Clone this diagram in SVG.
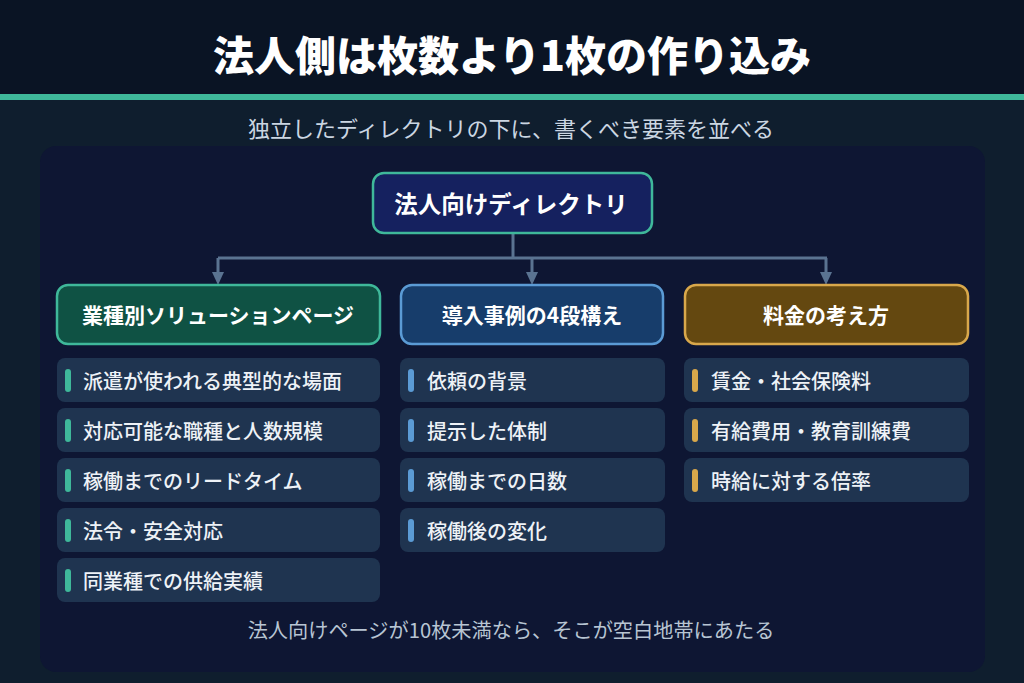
<svg xmlns="http://www.w3.org/2000/svg" width="1024" height="683" viewBox="0 0 1024 683">
<defs>
<style>
text{font-family:"Noto Sans CJK JP","Noto Sans",sans-serif;dominant-baseline:central}
.title{font-size:41px;font-weight:900;fill:#ffffff;text-anchor:middle}
.sub{font-size:22px;fill:#cbd6e2;text-anchor:middle}
.head{font-size:21px;font-weight:700;fill:#ffffff;text-anchor:middle}
.item{font-size:20px;font-weight:500;fill:#eef2f7}
.box{fill:#1f3450}
.conn{stroke:#5a7391;stroke-width:3;fill:none}
</style>
</defs>
<rect width="1024" height="683" fill="#0f1e2e"/>
<rect width="1024" height="95" fill="#0a1424"/>
<rect y="94" width="1024" height="6" fill="#3fb89a"/>
<text class="title" x="512" y="53">法人側は枚数より1枚の作り込み</text>
<text class="sub" x="511" y="127">独立したディレクトリの下に、書くべき要素を並べる</text>
<rect x="40" y="146" width="945" height="526" rx="16" fill="#0e1633"/>

<g id="connectors">
<path class="conn" d="M513,234 V258 M218,258 H827 M218,258 V274 M532,258 V274 M826,258 V274"/>
<path d="M212,272 H224 L218,285 Z" fill="#5a7391"/>
<path d="M526,272 H538 L532,285 Z" fill="#5a7391"/>
<path d="M820,272 H832 L826,285 Z" fill="#5a7391"/>
</g>

<g id="root">
<rect x="373" y="173" width="279" height="60" rx="11" fill="#15215f" stroke="#3fb89a" stroke-width="2.5"/>
<text class="head" x="511" y="203" style="font-size:23.5px">法人向けディレクトリ</text>
</g>

<g id="green-head">
<rect x="57" y="285" width="323" height="59" rx="11" fill="#0f5244" stroke="#3fb89a" stroke-width="2.5"/>
<text class="head" x="218" y="314">業種別ソリューションページ</text>
</g>
<g id="blue-head">
<rect x="401" y="285" width="262" height="59" rx="11" fill="#173d6b" stroke="#5b9bd5" stroke-width="2.5"/>
<text class="head" x="532" y="314">導入事例の4段構え</text>
</g>
<g id="gold-head">
<rect x="685" y="285" width="283" height="59" rx="11" fill="#644810" stroke="#d9a84b" stroke-width="2.5"/>
<text class="head" x="826" y="314">料金の考え方</text>
</g>

<g id="g1"><rect class="box" x="57" y="358" width="323" height="44" rx="8"/><rect x="65" y="369" width="6" height="23" rx="3" fill="#3fb89a"/><text class="item" x="83" y="380">派遣が使われる典型的な場面</text></g>
<g id="g2"><rect class="box" x="57" y="408" width="323" height="44" rx="8"/><rect x="65" y="419" width="6" height="23" rx="3" fill="#3fb89a"/><text class="item" x="83" y="430">対応可能な職種と人数規模</text></g>
<g id="g3"><rect class="box" x="57" y="458" width="323" height="44" rx="8"/><rect x="65" y="469" width="6" height="23" rx="3" fill="#3fb89a"/><text class="item" x="83" y="480">稼働までのリードタイム</text></g>
<g id="g4"><rect class="box" x="57" y="508" width="323" height="44" rx="8"/><rect x="65" y="519" width="6" height="23" rx="3" fill="#3fb89a"/><text class="item" x="83" y="530">法令・安全対応</text></g>
<g id="g5"><rect class="box" x="57" y="558" width="323" height="44" rx="8"/><rect x="65" y="569" width="6" height="23" rx="3" fill="#3fb89a"/><text class="item" x="83" y="580">同業種での供給実績</text></g>

<g id="b1"><rect class="box" x="400" y="358" width="265" height="44" rx="8"/><rect x="408" y="369" width="6" height="23" rx="3" fill="#5b9bd5"/><text class="item" x="427" y="380">依頼の背景</text></g>
<g id="b2"><rect class="box" x="400" y="408" width="265" height="44" rx="8"/><rect x="408" y="419" width="6" height="23" rx="3" fill="#5b9bd5"/><text class="item" x="427" y="430">提示した体制</text></g>
<g id="b3"><rect class="box" x="400" y="458" width="265" height="44" rx="8"/><rect x="408" y="469" width="6" height="23" rx="3" fill="#5b9bd5"/><text class="item" x="427" y="480">稼働までの日数</text></g>
<g id="b4"><rect class="box" x="400" y="508" width="265" height="44" rx="8"/><rect x="408" y="519" width="6" height="23" rx="3" fill="#5b9bd5"/><text class="item" x="427" y="530">稼働後の変化</text></g>

<g id="o1"><rect class="box" x="684" y="358" width="285" height="44" rx="8"/><rect x="692" y="369" width="6" height="23" rx="3" fill="#d9a84b"/><text class="item" x="711" y="380">賃金・社会保険料</text></g>
<g id="o2"><rect class="box" x="684" y="408" width="285" height="44" rx="8"/><rect x="692" y="419" width="6" height="23" rx="3" fill="#d9a84b"/><text class="item" x="711" y="430">有給費用・教育訓練費</text></g>
<g id="o3"><rect class="box" x="684" y="458" width="285" height="44" rx="8"/><rect x="692" y="469" width="6" height="23" rx="3" fill="#d9a84b"/><text class="item" x="711" y="480">時給に対する倍率</text></g>

<text class="sub" x="511" y="629" style="font-size:20.2px;fill:#b8c5d3">法人向けページが10枚未満なら、そこが空白地帯にあたる</text>
</svg>
